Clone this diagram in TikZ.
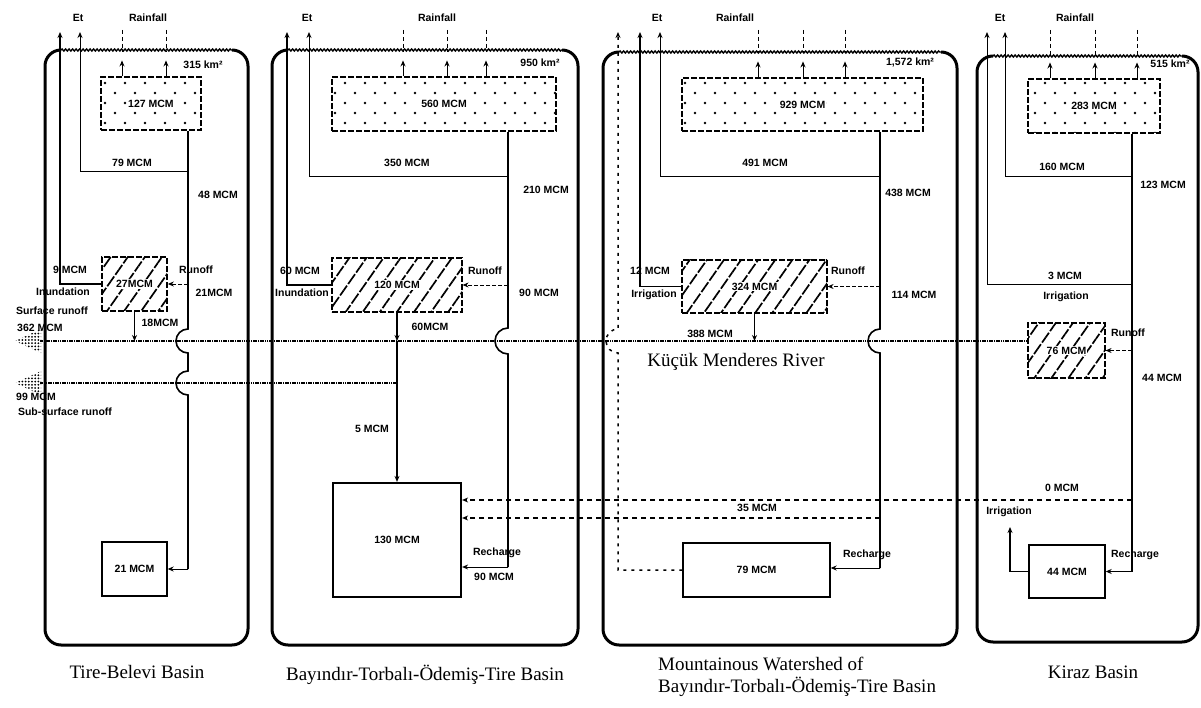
\documentclass[tikz,border=0pt]{standalone}
\usepackage{fontspec}
\setmainfont{Liberation Serif}
\setsansfont{Liberation Sans}
\usetikzlibrary{arrows.meta,patterns,patterns.meta,decorations.pathmorphing,calc}
\pgfdeclarepatternformonly{sparsedots}{\pgfpoint{-1pt}{-1pt}}{\pgfpoint{21pt}{21pt}}{\pgfpoint{20pt}{20pt}}{%
  \pgfpathcircle{\pgfpoint{5pt}{5pt}}{1.4pt}%
  \pgfpathcircle{\pgfpoint{15pt}{15pt}}{1.4pt}%
  \pgfusepath{fill}}
\begin{document}
\begin{tikzpicture}[x=1pt,y=-1pt,
  font=\sffamily\bfseries\fontsize{10.5}{12}\selectfont,
  lab/.style={inner sep=0pt},
  big/.style={font=\rmfamily\fontsize{19}{22}\selectfont, inner sep=0pt},
  flow/.style={line width=1.6pt},
  tflow/.style={line width=1pt},
  rflow/.style={line width=0.9pt, dash pattern=on 4pt off 2pt},
  dline/.style={line width=1.1pt, dash pattern=on 5pt off 4pt},
  arr/.style={-{Stealth[length=6pt,width=5pt]}},
  rain/.style={line width=1pt, dash pattern=on 4pt off 3pt},
  frame/.style={line width=3pt, rounded corners=16pt},
  ground/.style={line width=1.4pt, decorate, decoration={snake, amplitude=1pt, segment length=3.5pt}},
  river/.style={line width=1.6pt, dash pattern=on 1.6pt off 3pt},
  dotbox/.style={draw, line width=1.1pt, dash pattern=on 6pt off 2pt, pattern=sparsedots, inner sep=0pt},
  hatchbox/.style={draw, line width=1.1pt, dash pattern=on 6pt off 2pt, pattern={Lines[angle=55,distance=14pt,line width=1.7pt]}, inner sep=0pt},
  store/.style={draw, line width=1.3pt, inner sep=0pt},
  boxlab/.style={fill=white, inner sep=1pt}]
\useasboundingbox (0,0) rectangle (1201,708);

% common coordinates
\coordinate (rv) at (0,341);
\coordinate (sv) at (0,383);
\coordinate (re) at (40,341);
\coordinate (se) at (40,383);

% ---------------- frames ----------------
\draw[frame] (61,50) -- (45,50) -- (45,645) -- (248,645) -- (248,50) -- (232,50);
\draw[ground] (61,50) -- (232,50);
\draw[frame] (288,50) -- (272,50) -- (272,645) -- (578,645) -- (578,50) -- (562,50);
\draw[ground] (288,50) -- (562,50);
\draw[frame] (619,52) -- (603,52) -- (603,645) -- (957,645) -- (957,52) -- (941,52);
\draw[ground] (619,52) -- (941,52);
\draw[frame] (993,56) -- (977,56) -- (977,642) -- (1198,642) -- (1198,56) -- (1182,56);
\draw[ground] (993,56) -- (1182,56);

% ---------------- panel 1: Tire-Belevi ----------------
\node[dotbox, minimum width=100pt, minimum height=53pt] (s1) at (151,103.5) {};
\node[boxlab] (s1t) at (s1) {127 MCM};
\node[hatchbox, minimum width=65pt, minimum height=54pt] (h1) at (134.5,284) {};
\node[boxlab] (h1t) at (h1) {27MCM};
\node[store, minimum width=65pt, minimum height=54pt] (g1) at (134.5,569) {};
\node[lab] (g1t) at (g1) {21 MCM};
\coordinate (j1) at (188,172);
\coordinate (e1a) at (60,32);
\coordinate (e1b) at (80,32);
\draw[flow] (s1.south -| j1) -- (j1);
\draw[tflow,arr] (j1) -| (e1b);
\draw[flow] (j1) -- (188,329) arc[start angle=270,end angle=90,radius=12] -- (188,371)
  arc[start angle=270,end angle=90,radius=12] -- (188,569) coordinate (k1);
\draw[tflow,arr] (k1) -- (g1.east);
\draw[rflow,arr] (j1 |- h1.east) -- (h1.east);
\draw[flow,arr] (h1.west) -| (e1a);
\draw[flow,arr] (h1.south) -- (h1.south |- rv);
\foreach \x in {122,166} {
  \draw[rain] (\x,30) -- (\x,52);
  \draw[tflow,arr] (s1.north -| \x,0) -- ++(0,-16);
}
\node[lab] (t1et) at (78,18) {Et};
\node[lab] (t1rain) at (148,18) {Rainfall};
\node[lab] (t1km) at (203,65) {315 km²};
\node[lab] (t1a) at (132,163) {79 MCM};
\node[lab] (t1b) at (218,195) {48 MCM};
\node[lab] (t1c) at (196,270) {Runoff};
\node[lab] (t1d) at (214,293) {21MCM};
\node[lab] (t1e) at (70,270) {9 MCM};
\node[lab] (t1f) at (63,292) {Inundation};
\node[lab] (t1g) at (52,311) {Surface runoff};
\node[lab] (t1h) at (40,328) {362 MCM};
\node[lab] (t1i) at (160,323) {18MCM};
\node[lab] (t1j) at (36,397) {99 MCM};
\node[lab] (t1k) at (65,412) {Sub-surface runoff};
\node[big] (t1n) at (137,672) {Tire-Belevi Basin};

% ---------------- panel 2 ----------------
\node[dotbox, minimum width=224pt, minimum height=54pt] (s2) at (444,104) {};
\node[boxlab] (s2t) at (s2) {560 MCM};
\node[hatchbox, minimum width=130pt, minimum height=54pt] (h2) at (397,285) {};
\node[boxlab] (h2t) at (h2) {120 MCM};
\node[store, line width=2.2pt, minimum width=128pt, minimum height=114pt] (b2) at (397,540) {};
\node[lab] (b2t) at (b2) {130 MCM};
\coordinate (j2) at (508,177);
\coordinate (e2a) at (287,32);
\coordinate (e2b) at (309,32);
\draw[flow] (s2.south -| j2) -- (j2);
\draw[tflow,arr] (j2) -| (e2b);
\draw[flow] (j2) -- (508,328) arc[start angle=270,end angle=90,radius=13] -- (508,567) coordinate (k2);
\draw[tflow,arr] (k2) -- (b2.east |- k2);
\draw[rflow,arr] (j2 |- h2.east) -- (h2.east);
\draw[flow,arr] (h2.west) -| (e2a);
\draw[flow,arr] (h2.south) -- (h2.south |- rv);
\draw[line width=2pt,arr] (h2.south |- rv) -- (b2.north);
\foreach \x in {403,447,486} {
  \draw[rain] (\x,30) -- (\x,52);
  \draw[tflow,arr] (s2.north -| \x,0) -- ++(0,-16);
}
\node[lab] (t2et) at (307,18) {Et};
\node[lab] (t2rain) at (437,18) {Rainfall};
\node[lab] (t2km) at (540,63) {950 km²};
\node[lab] (t2a) at (407,163) {350 MCM};
\node[lab] (t2b) at (546,190) {210 MCM};
\node[lab] (t2c) at (485,271) {Runoff};
\node[lab] (t2d) at (539,293) {90 MCM};
\node[lab] (t2e) at (300,271) {60 MCM};
\node[lab] (t2f) at (302,293) {Inundation};
\node[lab] (t2g) at (430,327) {60MCM};
\node[lab] (t2h) at (372,429) {5 MCM};
\node[lab] (t2i) at (497,553) {Recharge};
\node[lab] (t2j) at (494,577) {90 MCM};
\node[big] (t2n) at (425,675) {Bayındır-Torbalı-Ödemiş-Tire Basin};

% ---------------- panel 3 ----------------
\node[dotbox, minimum width=241pt, minimum height=53pt] (s3) at (802.5,104.5) {};
\node[boxlab] (s3t) at (s3) {929 MCM};
\node[hatchbox, minimum width=145pt, minimum height=53pt] (h3) at (754.5,286.5) {};
\node[boxlab] (h3t) at (h3) {324 MCM};
\node[store, minimum width=147pt, minimum height=54pt] (b3) at (756.5,570) {};
\node[lab] (b3t) at (b3) {79 MCM};
\coordinate (j3) at (880,177);
\coordinate (e3a) at (618,32);
\coordinate (e3b) at (640,32);
\coordinate (e3c) at (660,32);
\draw[flow] (s3.south -| j3) -- (j3);
\draw[tflow,arr] (j3) -| (e3c);
\draw[flow] (j3) -- (880,329) arc[start angle=270,end angle=90,radius=12] -- (880,568) coordinate (k3);
\draw[tflow,arr] (k3) -- (b3.east |- k3);
\draw[rflow,arr] (j3 |- h3.east) -- (h3.east);
\draw[flow,arr] (h3.west) -| (e3b);
\draw[flow,arr] (h3.south) -- (h3.south |- rv);
\draw[line width=1.5pt, dash pattern=on 3pt off 5pt, arr] (b3.west) -- (b3.west -| e3a) -- (618,353) arc[start angle=90,end angle=270,radius=12] -- (e3a);
\foreach \x in {758,803,845} {
  \draw[rain] (\x,30) -- (\x,52);
  \draw[tflow,arr] (s3.north -| \x,0) -- ++(0,-16);
}
\coordinate (j7) at (880,518);
\draw[dline,arr] (j7) -- (b2.east |- j7);
\node[lab] (t3et) at (657,18) {Et};
\node[lab] (t3rain) at (735,18) {Rainfall};
\node[lab] (t3km) at (910,63) {1,572 km²};
\node[lab] (t3a) at (765,163) {491 MCM};
\node[lab] (t3b) at (908,193) {438 MCM};
\node[lab] (t3c) at (848,271) {Runoff};
\node[lab] (t3d) at (914,295) {114 MCM};
\node[lab] (t3e) at (650,271) {12 MCM};
\node[lab] (t3f) at (654,295) {Irrigation};
\node[lab] (t3g) at (710,334) {388 MCM};
\node[big] (t3r) at (736,362) {Küçük Menderes River};
\node[lab] (t3h) at (867,555) {Recharge};
\node[lab] (t3i) at (757,508) {35 MCM};
\node[big, anchor=west, align=left] (t3n) at (658,677) {Mountainous Watershed of\\Bayındır-Torbalı-Ödemiş-Tire Basin};

% ---------------- panel 4: Kiraz ----------------
\node[dotbox, minimum width=132pt, minimum height=54pt] (s4) at (1094,106) {};
\node[boxlab] (s4t) at (s4) {283 MCM};
\node[hatchbox, minimum width=77pt, minimum height=55pt] (h4) at (1066.5,350.5) {};
\node[boxlab] (h4t) at (h4) {76 MCM};
\node[store, minimum width=76pt, minimum height=53pt] (b4) at (1067,571.5) {};
\node[lab] (b4t) at (b4) {44 MCM};
\coordinate (j4) at (1132,177);
\coordinate (j5) at (1132,285);
\coordinate (j6) at (1132,500);
\coordinate (e4a) at (987,32);
\coordinate (e4b) at (1005,32);
\coordinate (i4) at (1010,527);
\draw[flow] (s4.south -| j4) -- (j4);
\draw[tflow,arr] (j4) -| (e4b);
\draw[flow] (j4) -- (1132,571.5) coordinate (k4);
\draw[tflow,arr] (j5) -| (e4a);
\draw[tflow,arr] (k4) -- (b4.east);
\draw[rflow,arr] (j4 |- h4.east) -- (h4.east);
\draw[flow,arr] (b4.west) -| (i4);
\draw[dline,arr] (j6) -- (b2.east |- j6);
\foreach \x in {1050,1095,1137} {
  \draw[rain] (\x,30) -- (\x,56);
  \draw[tflow,arr] (s4.north -| \x,0) -- ++(0,-16);
}
\node[lab] (t4et) at (1000,18) {Et};
\node[lab] (t4rain) at (1075,18) {Rainfall};
\node[lab] (t4km) at (1170,64) {515 km²};
\node[lab] (t4a) at (1062,167) {160 MCM};
\node[lab] (t4b) at (1163,185) {123 MCM};
\node[lab] (t4c) at (1065,276) {3 MCM};
\node[lab] (t4d) at (1066,297) {Irrigation};
\node[lab] (t4e) at (1128,333) {Runoff};
\node[lab] (t4f) at (1162,378) {44 MCM};
\node[lab] (t4g) at (1062,488) {0 MCM};
\node[lab] (t4h) at (1009,512) {Irrigation};
\node[lab] (t4i) at (1135,555) {Recharge};
\node[big] (t4n) at (1093,672) {Kiraz Basin};

% ---------------- river and sub-surface flow ----------------
\draw[river, yshift=1.3pt] (h4.west |- rv) -- (re);
\draw[river, yshift=-1.3pt, dash phase=2.3pt] (h4.west |- rv) -- (re);
\draw[river, yshift=1.3pt] (h2.south |- sv) -- (se);
\draw[river, yshift=-1.3pt, dash phase=2.3pt] (h2.south |- sv) -- (se);
\fill[pattern={Dots[distance=3.2pt,radius=1pt]}] (41,329) -- (15,341) -- (41,353) -- cycle;
\fill[pattern={Dots[distance=3.2pt,radius=1pt]}] (41,371) -- (15,383) -- (41,395) -- cycle;
\end{tikzpicture}
\end{document}
